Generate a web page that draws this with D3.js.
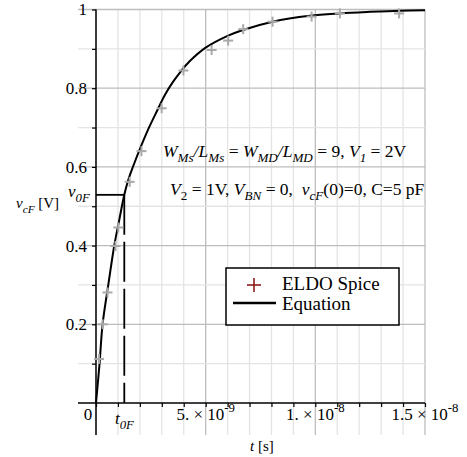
<!DOCTYPE html>
<html>
<head>
<meta charset="utf-8">
<script src="https://cdn.jsdelivr.net/npm/d3@7"></script>
<style>
  html, body { margin: 0; padding: 0; background: #fff; }
  svg { display: block; font-family: "Liberation Serif", "Times New Roman", serif; }
</style>
</head>
<body>
<svg id="chart" width="467" height="457"></svg>
<script>
// Capacitor voltage v_cF(t); times are in nanoseconds.
const eqT = [0, 0.16, 0.3, 0.56, 0.83, 1.07, 1.29, 1.46, 1.69, 2.05, 2.41, 2.78, 3.14, 3.51, 3.87, 4.28, 5.0, 6.0, 6.7, 8.05, 9.75, 11.1, 12.5, 13.85, 15.0];
const eqV = [0, 0.099, 0.2, 0.3, 0.399, 0.468, 0.529, 0.565, 0.601, 0.652, 0.699, 0.742, 0.783, 0.816, 0.843, 0.869, 0.903, 0.933, 0.948, 0.969, 0.984, 0.99, 0.994, 0.997, 0.998];

// ELDO simulation samples
const spiceT = [0.137, 0.305, 0.524, 0.888, 1.016, 1.535, 2.073, 2.993, 3.986, 5.271, 6.027, 6.71, 8.05, 9.83, 11.12, 13.82];
const spiceV = [0.112, 0.2, 0.281, 0.399, 0.446, 0.562, 0.64, 0.749, 0.845, 0.897, 0.921, 0.95, 0.969, 0.982, 0.99, 0.99];

// End of the first charging phase
const t0F = 1.29;
const v0F = 0.529;

// Axis ticks
const xMinor = d3.range(0, 16, 1);
const xMajor = [5, 10, 15];
const xMant = ["5.", "1.", "1.5"];
const xExp = ["-9", "-8", "-8"];
const yMinor = [0.1, 0.3, 0.5, 0.7, 0.9];
const yMajor = [0.2, 0.4, 0.6, 0.8, 1];
const yLabels = ["0.2", "0.4", "0.6", "0.8", "1"];

const svg = d3.select("#chart");
const x = d3.scaleLinear().domain([0, 15]).range([96, 425]);
const y = d3.scaleLinear().domain([0, 1]).range([403, 9.5]);

const gridLeft = 78, gridBottom = 435;

// grid: minor first, then major
const grid = svg.append("g");
grid.selectAll(".vmin").data(xMinor).join("line")
  .attr("x1", d => x(d)).attr("x2", d => x(d))
  .attr("y1", y(1)).attr("y2", gridBottom)
  .attr("stroke", d => xMajor.includes(d) ? "#bdbdbd" : "#e4e4e4").attr("stroke-width", 1.3);
grid.selectAll(".hmin").data(yMinor).join("line")
  .attr("x1", gridLeft).attr("x2", x(15))
  .attr("y1", d => y(d)).attr("y2", d => y(d))
  .attr("stroke", "#e4e4e4").attr("stroke-width", 1.3);
grid.selectAll(".hmaj").data(yMajor).join("line")
  .attr("x1", gridLeft).attr("x2", x(15))
  .attr("y1", d => y(d)).attr("y2", d => y(d))
  .attr("stroke", "#bdbdbd").attr("stroke-width", 1.3);

// axes
const xAxis = svg.append("g").attr("transform", `translate(0,${y(0)})`)
  .call(d3.axisBottom(x).tickValues(xMinor).tickSize(4).tickSizeOuter(0).tickFormat(""));
xAxis.select(".domain").remove();
xAxis.selectAll("line").attr("stroke", "#000").attr("stroke-width", 1.2);

const yAxis = svg.append("g").attr("transform", `translate(${x(0)},0)`)
  .call(d3.axisLeft(y).tickValues(yMajor).tickSize(4).tickPadding(5).tickSizeOuter(0)
    .tickFormat((d, i) => yLabels[i]));
yAxis.select(".domain").remove();
yAxis.selectAll("line").attr("stroke", "#000").attr("stroke-width", 1.2);
yAxis.selectAll("text").attr("font-size", 17).attr("fill", "#000")
  .attr("font-family", "Liberation Serif");

svg.append("g").attr("transform", `translate(${x(0)},0)`)
  .call(d3.axisLeft(y).tickValues(yMinor).tickSize(4).tickFormat(""))
  .call(g => g.select(".domain").remove())
  .selectAll("line").attr("stroke", "#000").attr("stroke-width", 1.2);

svg.append("line").attr("x1", gridLeft).attr("x2", x(15))
  .attr("y1", y(0)).attr("y2", y(0)).attr("stroke", "#000").attr("stroke-width", 1.5);
svg.append("line").attr("x1", x(0)).attr("x2", x(0))
  .attr("y1", y(1)).attr("y2", gridBottom).attr("stroke", "#000").attr("stroke-width", 1.5);

// rich text helper: parts = [{t, i (italic), sub, sup}]
function rich(g, px, py, size, parts) {
  const t = g.append("text").attr("x", px).attr("y", py)
    .attr("font-size", size).attr("fill", "#000");
  let off = 0;
  parts.forEach(p => {
    const target = p.sub ? size * 0.3 : p.sup ? -size * 0.45 : 0;
    const ts = t.append("tspan").text(p.t)
      .attr("dy", target - off)
      .attr("font-size", (p.sub || p.sup) ? size * 0.75 : size);
    if (p.i) ts.attr("font-style", "italic");
    off = target;
  });
  return t;
}

// x tick labels
xMajor.forEach((d, i) => {
  rich(svg, x(d), 420, 17, [
    { t: xMant[i] + " \u00d7 10" },
    { t: xExp[i], sup: true }
  ]).attr("text-anchor", "middle");
});
svg.append("text").attr("x", 88).attr("y", 420).attr("text-anchor", "middle")
  .attr("font-size", 17).text("0");

// axis titles
rich(svg, 250, 451, 15, [{ t: "t", i: true }, { t: " [s]" }]);
rich(svg, 16, 208, 15, [{ t: "v", i: true }, { t: "cF", i: true, sub: true }, { t: " [V]" }]);

// t0F / v0F markers
svg.append("line").attr("x1", x(0)).attr("x2", x(t0F))
  .attr("y1", y(v0F)).attr("y2", y(v0F)).attr("stroke", "#000").attr("stroke-width", 1.8);
svg.append("line").attr("x1", x(t0F)).attr("x2", x(t0F))
  .attr("y1", y(v0F)).attr("y2", y(0))
  .attr("stroke", "#000").attr("stroke-width", 1.8).attr("stroke-dasharray", "40,7");
rich(svg, 68, 197, 17, [{ t: "v", i: true }, { t: "0F", i: true, sub: true }]);
rich(svg, 115, 424, 17, [{ t: "t", i: true }, { t: "0F", i: true, sub: true }]);

// annotation
rich(svg, 163, 157, 17.5, [
  { t: "W", i: true }, { t: "Ms", i: true, sub: true }, { t: "/", i: true },
  { t: "L", i: true }, { t: "Ms", i: true, sub: true }, { t: " = " },
  { t: "W", i: true }, { t: "MD", i: true, sub: true }, { t: "/", i: true },
  { t: "L", i: true }, { t: "MD", i: true, sub: true }, { t: " = 9, " },
  { t: "V", i: true }, { t: "1", i: true, sub: true }, { t: " = 2V" }
]);
rich(svg, 170, 195, 17.5, [
  { t: "V", i: true }, { t: "2", sub: true }, { t: " = 1V, " },
  { t: "V", i: true }, { t: "BN", i: true, sub: true }, { t: " = 0,\u00a0\u00a0" },
  { t: "v", i: true }, { t: "cF", i: true, sub: true }, { t: "(0)=0, C=5 pF" }
]);

// equation curve
const eqPts = eqT.map((t, i) => [t, eqV[i]]);
svg.append("path").datum(eqPts)
  .attr("d", d3.line().x(d => x(d[0])).y(d => y(d[1])).curve(d3.curveCatmullRom.alpha(0.5)))
  .attr("fill", "none").attr("stroke", "#000").attr("stroke-width", 2);

// spice crosses
const cross = 5;
const sp = svg.append("g").attr("stroke", "#a9a9a9").attr("stroke-width", 2);
spiceT.forEach((t, i) => {
  const cx = x(t), cy = y(spiceV[i]);
  sp.append("line").attr("x1", cx - cross).attr("x2", cx + cross).attr("y1", cy).attr("y2", cy);
  sp.append("line").attr("x1", cx).attr("x2", cx).attr("y1", cy - cross).attr("y2", cy + cross);
});

// legend
const lg = svg.append("g");
lg.append("rect").attr("x", 226).attr("y", 268).attr("width", 173).attr("height", 57)
  .attr("fill", "#fff").attr("stroke", "#000").attr("stroke-width", 1.5);
lg.append("line").attr("x1", 247).attr("x2", 261).attr("y1", 285).attr("y2", 285)
  .attr("stroke", "#8b1c1c").attr("stroke-width", 1.6);
lg.append("line").attr("x1", 254).attr("x2", 254).attr("y1", 278).attr("y2", 292)
  .attr("stroke", "#8b1c1c").attr("stroke-width", 1.6);
lg.append("text").attr("x", 282).attr("y", 290).attr("font-size", 19).text("ELDO Spice");
lg.append("line").attr("x1", 233).attr("x2", 276).attr("y1", 303).attr("y2", 303)
  .attr("stroke", "#000").attr("stroke-width", 2.5);
lg.append("text").attr("x", 282).attr("y", 310).attr("font-size", 19).text("Equation");
</script>
</body>
</html>
